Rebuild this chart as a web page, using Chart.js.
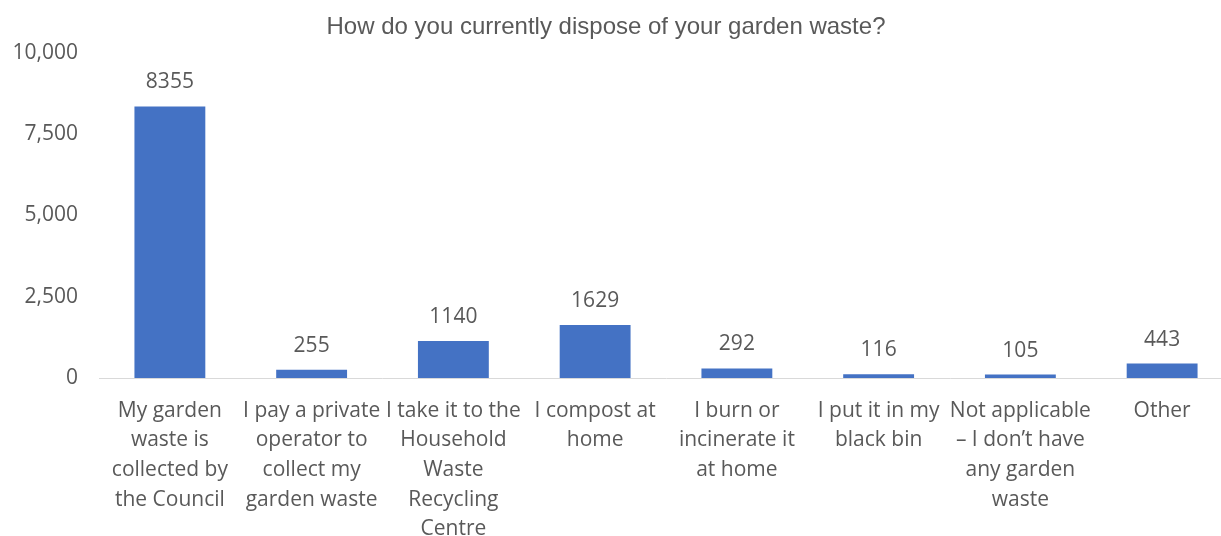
<!DOCTYPE html>
<html>
<head>
<meta charset="utf-8">
<script src="https://cdn.jsdelivr.net/npm/chart.js@4.4.0/dist/chart.umd.min.js"></script>
<style>
    html, body { margin: 0; padding: 0; background: #fff; overflow: hidden; }
    #wrap { width: 1240px; height: 536px; position: relative; }
</style>
</head>
<body>
<div id="wrap"><canvas id="chart"></canvas></div>
<script>
    const chartTitle = 'How do you currently dispose of your garden waste?';
    const categories = [
        ['My garden', 'waste is', 'collected by', 'the Council'],
        ['I pay a private', 'operator to', 'collect my', 'garden waste'],
        ['I take it to the', 'Household', 'Waste', 'Recycling', 'Centre'],
        ['I compost at', 'home'],
        ['I burn or', 'incinerate it', 'at home'],
        ['I put it in my', 'black bin'],
        ['Not applicable', '\u2013 I don\u2019t have', 'any garden', 'waste'],
        ['Other']
    ];
    const responses = [8355, 255, 1140, 1629, 292, 116, 105, 443];
    const yTicks = [0, 2500, 5000, 7500, 10000];

    const textColor = '#595959';
    const fontFamily = '"Open Sans", sans-serif';
    const titleFont = '"Liberation Sans", Arial, sans-serif';

    // título e etiquetas de valor acima das barras
    const valueLabels = {
        id: 'valueLabels',
        afterDatasetsDraw(chart) {
            const ctx = chart.ctx;
            const meta = chart.getDatasetMeta(0);
            ctx.save();
            ctx.font = '21px ' + fontFamily;
            ctx.fillStyle = textColor;
            ctx.textAlign = 'center';
            ctx.textBaseline = 'middle';
            meta.data.forEach((bar, i) => {
                ctx.fillText(String(responses[i]), bar.x, bar.y - 24);
            });
            // título (o gráfico original está cortado à direita, por isso centrado à mão)
            ctx.font = '24px ' + titleFont;
            ctx.fillText(chartTitle, 606, 27);
            ctx.restore();
        }
    };

    const ctx = document.getElementById('chart').getContext('2d');
    new Chart(ctx, {
        type: 'bar',
        data: {
            labels: categories,
            datasets: [{
                data: responses,
                backgroundColor: '#4472c4',
                categoryPercentage: 1,
                barPercentage: 0.5
            }]
        },
        options: {
            responsive: true,
            maintainAspectRatio: false,
            animation: false,
            layout: { padding: { left: 0, right: 7, top: 53, bottom: 0 } },
            plugins: {
                legend: { display: false },
                tooltip: { enabled: false },
                title: { display: false }
            },
            scales: {
                x: {
                    grid: { display: false },
                    border: { display: true, color: '#d9d9d9', width: 1 },
                    ticks: {
                        color: textColor,
                        font: { family: fontFamily, size: 21, lineHeight: 1.41 },
                        maxRotation: 0,
                        autoSkip: false,
                        padding: 10
                    },
                    afterFit(scale) { scale.height = 158; }
                },
                y: {
                    min: 0,
                    max: 10000,
                    afterBuildTicks(scale) { scale.ticks = yTicks.map(v => ({ value: v })); },
                    grid: { display: false },
                    border: { display: false },
                    ticks: {
                        color: textColor,
                        font: { family: fontFamily, size: 21 },
                        padding: 13,
                        callback: v => v.toLocaleString('en-US')
                    },
                    afterFit(scale) { scale.width = 99; }
                }
            }
        },
        plugins: [valueLabels]
    });
</script>
</body>
</html>
